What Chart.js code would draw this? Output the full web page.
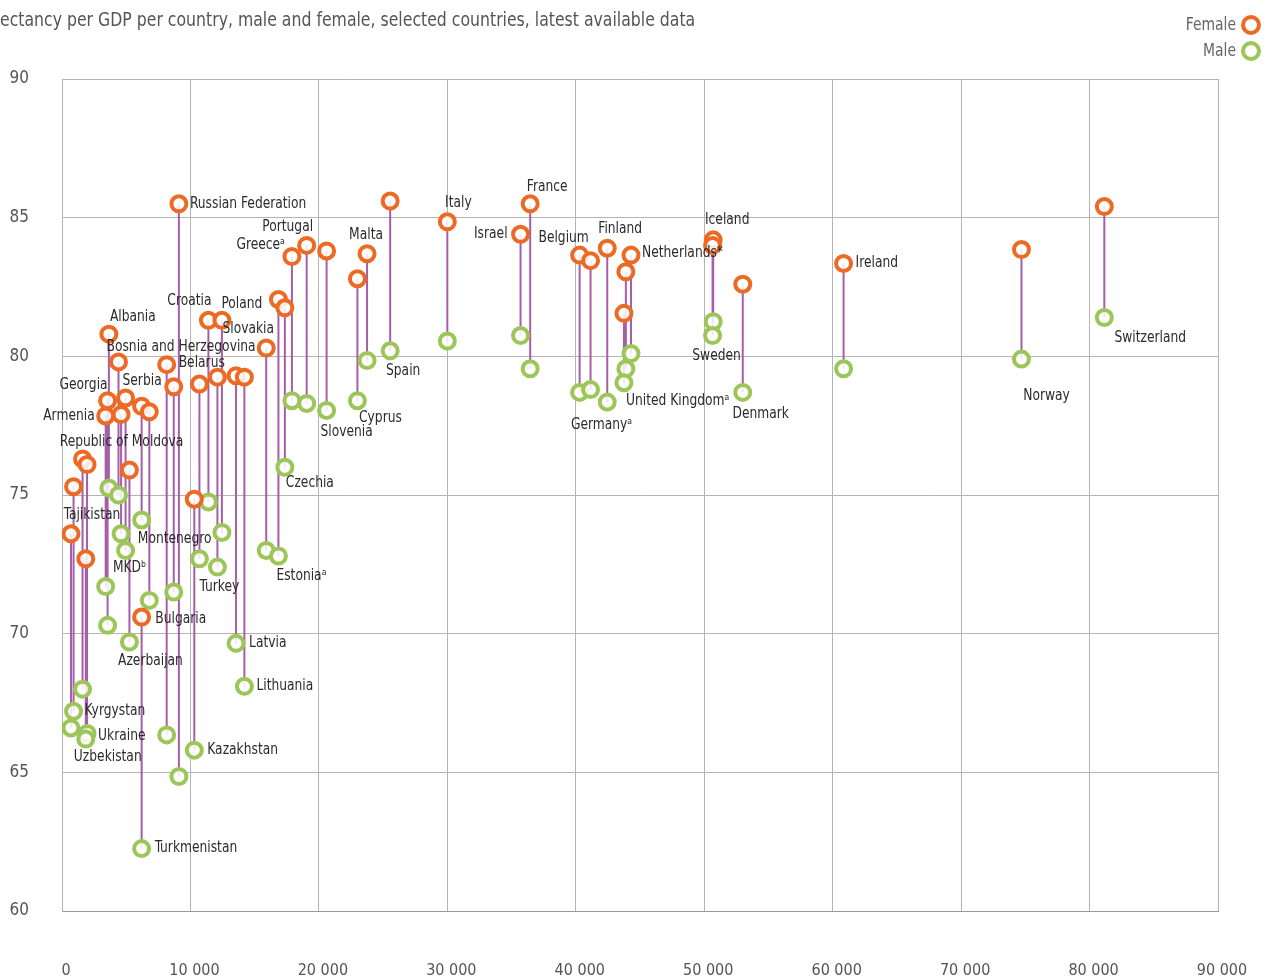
<!DOCTYPE html>
<html>
<head>
<meta charset="utf-8">
<script src="https://cdn.jsdelivr.net/npm/chart.js@4.4.1/dist/chart.umd.min.js"></script>
<style>
html,body{margin:0;padding:0;background:#fff;}
#c{display:block;}
</style>
</head>
<body>
<canvas id="c" width="1276" height="978"></canvas>
<script>
// ---- Data ----
const titleText = "ectancy per GDP per country, male and female, selected countries, latest available data";
const countries = ["Tajikistan","Kyrgystan","Republic of Moldova","Ukraine","Uzbekistan","Armenia","Georgia","Albania","Bosnia and Herzegovina","Serbia","MKD","Azerbaijan","Montenegro","Turkmenistan","Bulgaria","Belarus","","Russian Federation","Kazakhstan","","Croatia","Turkey","Poland","Latvia","Lithuania","Slovakia","Estonia","Czechia","Greece","Portugal","Slovenia","Cyprus","Malta","Spain","Italy","Israel","France","Belgium","Germany","Finland","","United Kingdom","Netherlands","Iceland","Sweden","Denmark","Ireland","Norway","Switzerland"];
const gdp = [700,900,1600,1950,1850,3400,3550,3650,4400,4600,4950,5250,6200,6200,6800,8150,8700,9100,10300,10700,11400,12100,12450,13550,14200,15900,16850,17350,17900,19050,20600,23000,23750,25550,30000,35700,36450,40300,41150,42450,43900,43750,44300,50700,50650,53000,60850,74700,81150];
const female = [73.6,75.3,76.3,76.1,72.7,77.85,78.4,80.8,79.8,77.9,78.5,75.9,78.2,70.6,78.0,79.7,78.9,85.5,74.85,79.0,81.3,79.25,81.3,79.3,79.25,80.3,82.05,81.75,83.6,84.0,83.8,82.8,83.7,85.6,84.85,84.4,85.5,83.65,83.45,83.9,83.05,81.55,83.65,84.2,84.0,82.6,83.35,83.85,85.4];
const male = [66.6,67.2,68.0,66.4,66.2,71.7,70.3,75.25,75.0,73.6,73.0,69.7,74.1,62.25,71.2,66.35,71.5,64.85,65.8,72.7,74.75,72.4,73.65,69.65,68.1,73.0,72.8,76.0,78.4,78.3,78.05,78.4,79.85,80.2,80.55,80.75,79.55,78.7,78.8,78.35,79.55,79.05,80.1,81.25,80.75,78.7,79.55,79.9,81.4];
const xTickLabels = ["0","10 000","20 000","30 000","40 000","50 000","60 000","70 000","80 000","90 000"];
const yTickLabels = ["60","65","70","75","80","85","90"];
const seriesNames = ["Female","Male"];

// ---- Label placement (text, country, point, dx, dy, align) ----
const labelSpecs = [
  ["Russian Federation","Russian Federation","f",11,0,"left"],
  ["Portugal","Portugal","f",-19,-18,"center"],
  ["Greece\u1d43","Greece","f",-7,-11,"right"],
  ["Malta","Malta","f",-1,-19,"center"],
  ["Italy","Italy","f",11,-19,"center"],
  ["France","France","f",17,-17,"center"],
  ["Israel","Israel","f",-13,0,"right"],
  ["Belgium","Belgium","f",-16,-17,"center"],
  ["Finland","Finland","f",13,-19,"center"],
  ["Netherlands*","Netherlands","f",11,-2,"left"],
  ["Iceland","Iceland","f",14,-20,"center"],
  ["Sweden","Sweden","m",4,21,"center"],
  ["Denmark","Denmark","m",18,22,"center"],
  ["Ireland","Ireland","f",12,0,"left"],
  ["Norway","Norway","m",25,37,"center"],
  ["Switzerland","Switzerland","m",46,21,"center"],
  ["United Kingdom\u1d43","United Kingdom","m",2,18,"left"],
  ["Germany\u1d43","Germany","m",11,35,"center"],
  ["Cyprus","Cyprus","m",23,17,"center"],
  ["Slovenia","Slovenia","m",20,22,"center"],
  ["Spain","Spain","m",13,20,"center"],
  ["Czechia","Czechia","m",25,16,"center"],
  ["Estonia\u1d43","Estonia","m",23,20,"center"],
  ["Croatia","Croatia","f",-19,-19,"center"],
  ["Poland","Poland","f",20,-16,"center"],
  ["Slovakia","Slovakia","f",-18,-19,"center"],
  ["Albania","Albania","f",24,-17,"center"],
  ["Bosnia and Herzegovina","Bosnia and Herzegovina","f",-12,-15,"left"],
  ["Belarus","Belarus","f",12,-2,"left"],
  ["Georgia","Georgia","f",0,-16,"right"],
  ["Serbia","Serbia","f",21,-33,"center"],
  ["Armenia","Armenia","f",-11,0,"right"],
  ["Republic of Moldova","Republic of Moldova","f",39,-17,"center"],
  ["Tajikistan","Tajikistan","f",21,-19,"center"],
  ["Kyrgystan","Kyrgystan","m",11,0,"left"],
  ["Ukraine","Ukraine","m",11,3,"left"],
  ["Uzbekistan","Uzbekistan","m",22,18,"center"],
  ["Montenegro","Montenegro","m",33,19,"center"],
  ["MKD\u1d47","MKD","m",4,18,"center"],
  ["Turkey","Turkey","m",2,20,"center"],
  ["Bulgaria","Bulgaria","m",6,19,"left"],
  ["Azerbaijan","Azerbaijan","m",21,19,"center"],
  ["Latvia","Latvia","m",13,0,"left"],
  ["Lithuania","Lithuania","m",12,0,"left"],
  ["Kazakhstan","Kazakhstan","m",13,0,"left"],
  ["Turkmenistan","Turkmenistan","m",13,0,"left"]
];

const FONT = "'Liberation Sans Narrow','DejaVu Sans Condensed','Open Sans',sans-serif";
const ORANGE = "#ec6a23";
const GREEN = "#9cc657";
const PURPLE = "#a65ea9";
const GRID = "#b4b4b4";

const femalePts = gdp.map((x,i)=>({x:x,y:female[i]}));
const malePts = gdp.map((x,i)=>({x:x,y:male[i]}));
const linkPts = [];
gdp.forEach((x,i)=>{ linkPts.push({x:x,y:female[i]}); linkPts.push({x:x,y:male[i]}); linkPts.push({x:x,y:null}); });

// draw text horizontally condensed around its anchor
function narrowText(ctx, txt, x, y, sx){
  ctx.save();
  ctx.translate(x, y);
  ctx.scale(sx, 1);
  ctx.fillText(txt, 0, 0);
  ctx.restore();
}

const decorPlugin = {
  id:'decor',
  afterDatasetsDraw(chart){
    const ctx = chart.ctx;
    const xs = chart.scales.x, ys = chart.scales.y;
    ctx.save();
    ctx.font = "15px " + FONT;
    ctx.fillStyle = "#2b2b2b";
    ctx.textBaseline = "middle";
    labelSpecs.forEach(s=>{
      const i = countries.indexOf(s[1]);
      if(i<0) return;
      const px = xs.getPixelForValue(gdp[i]);
      const py = ys.getPixelForValue(s[2]==='f'?female[i]:male[i]);
      ctx.textAlign = s[5];
      narrowText(ctx, s[0], px + s[3], py + s[4], 0.91);
    });
    ctx.restore();
  },
  afterDraw(chart){
    const ctx = chart.ctx;
    ctx.save();
    ctx.font = "20px " + FONT;
    ctx.fillStyle = "#555";
    ctx.textBaseline = "middle";
    ctx.textAlign = "left";
    narrowText(ctx, titleText, 0, 21, 0.873);
    // legend
    ctx.font = "18px " + FONT;
    ctx.textAlign = "right";
    const cols = [ORANGE, GREEN];
    seriesNames.forEach((n,k)=>{
      const y = 25 + k*26;
      ctx.fillStyle = "#666";
      narrowText(ctx, n, 1236, y, 0.86);
      ctx.beginPath();
      ctx.arc(1251, y, 8, 0, Math.PI*2);
      ctx.lineWidth = 4;
      ctx.strokeStyle = cols[k];
      ctx.fillStyle = "#fff";
      ctx.fill();
      ctx.stroke();
    });
    ctx.restore();
  }
};

new Chart(document.getElementById('c'), {
  type:'scatter',
  data:{
    datasets:[
      {label:'link', data:linkPts, showLine:true, spanGaps:false, borderColor:PURPLE, borderWidth:2, pointRadius:0, order:3},
      {label:seriesNames[1], data:malePts, pointRadius:7.5, pointHoverRadius:7.5, pointBorderWidth:4, borderColor:GREEN, backgroundColor:'rgba(255,255,255,0.85)', order:2},
      {label:seriesNames[0], data:femalePts, pointRadius:7.5, pointHoverRadius:7.5, pointBorderWidth:4, borderColor:ORANGE, backgroundColor:'rgba(255,255,255,0.85)', order:1}
    ]
  },
  options:{
    responsive:false,
    animation:false,
    devicePixelRatio:1,
    layout:{padding:{top:79,right:58,left:0,bottom:0}},
    plugins:{legend:{display:false}, tooltip:{enabled:false}},
    scales:{
      x:{
        type:'linear', min:0, max:90000,
        afterFit(s){ s.height = 67; s.paddingRight = 0; s.paddingLeft = 0; },
        ticks:{stepSize:10000, padding:50, color:'#555', font:{family:FONT,size:16},
          labelOffset:4,
          callback:(v)=>xTickLabels[Math.round(v/10000)]},
        grid:{color:GRID, drawTicks:false, lineWidth:1},
        border:{color:'#999', width:1}
      },
      y:{
        min:60, max:90,
        afterFit(s){ s.width = 62; },
        ticks:{stepSize:5, padding:33, color:'#555', font:{family:FONT,size:17},
          callback:(v)=>yTickLabels[Math.round((v-60)/5)]},
        grid:{color:GRID, drawTicks:false, lineWidth:1},
        border:{color:GRID, width:1}
      }
    }
  },
  plugins:[decorPlugin]
});
</script>
</body>
</html>
